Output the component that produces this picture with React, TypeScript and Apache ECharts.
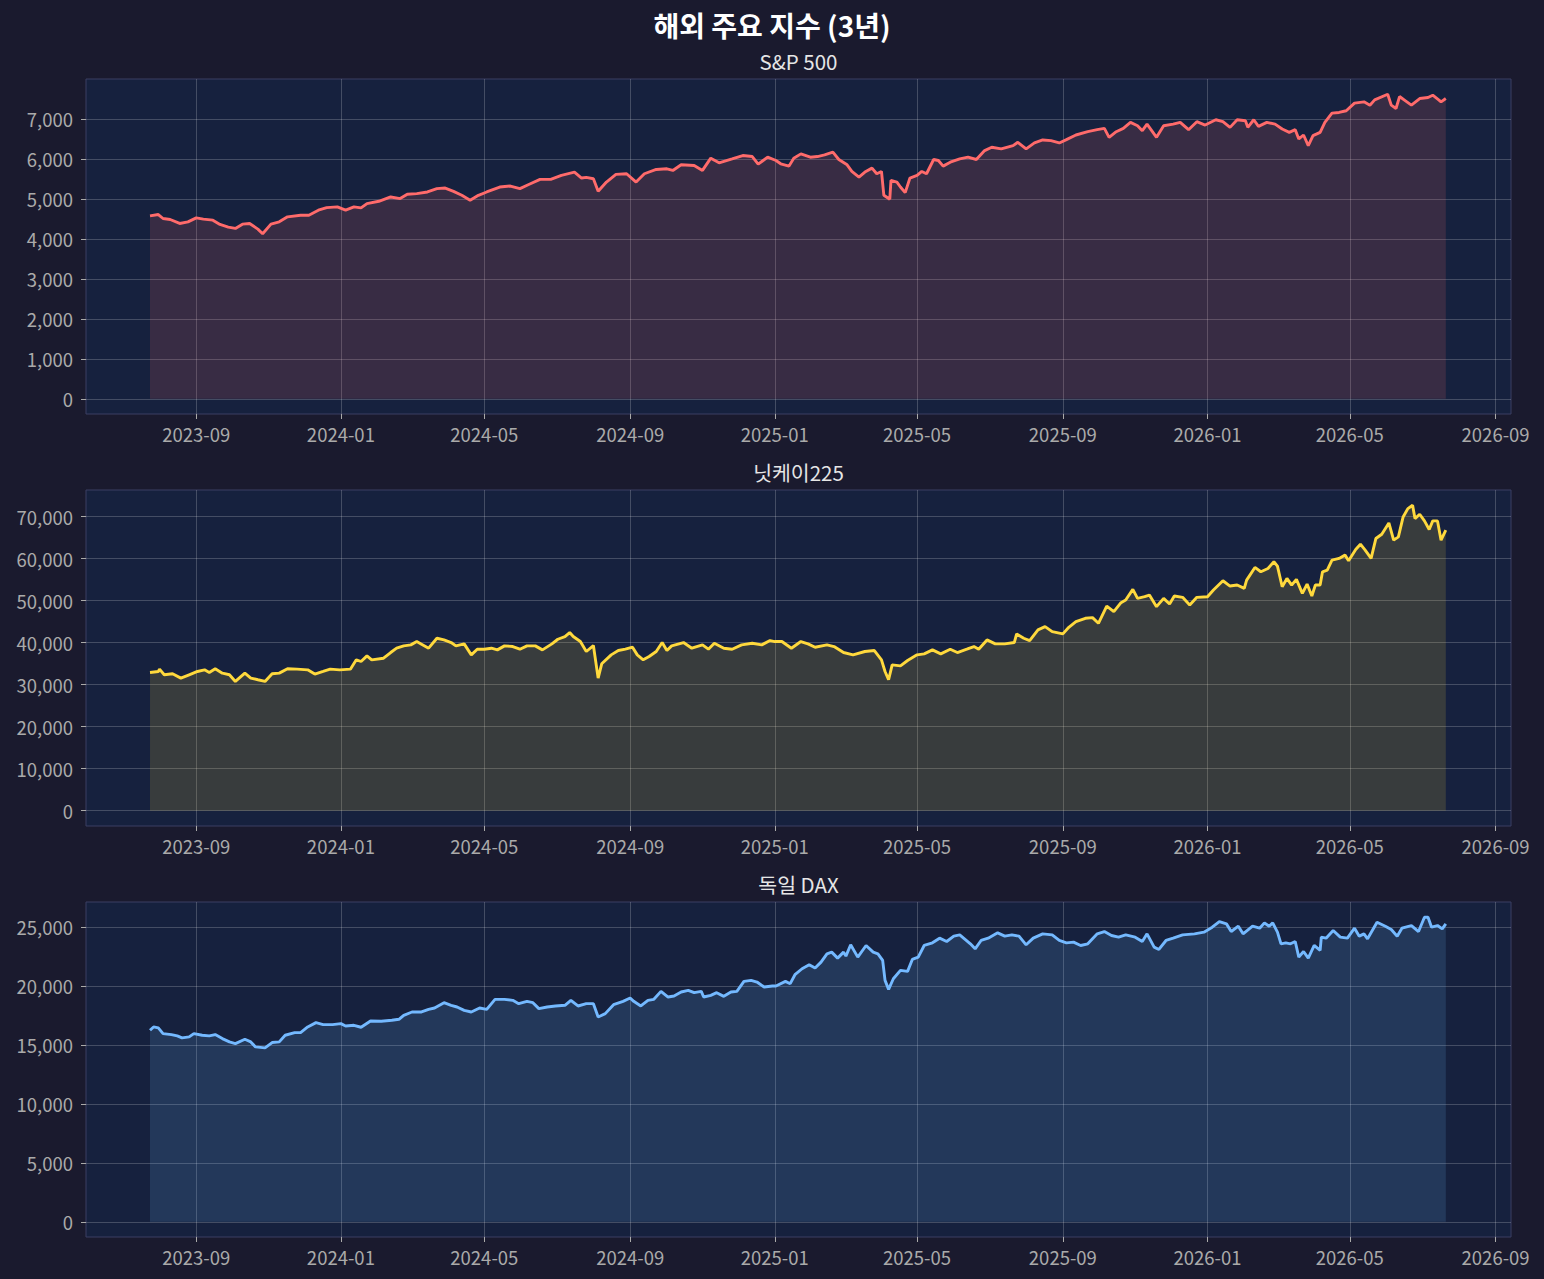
import React, { useEffect, useRef } from "react";
import * as echarts from "echarts";

const FONT = '"Noto Sans CJK KR", "Noto Sans", sans-serif';

const mainTitle = "해외 주요 지수 (3년)";
const panelTitles = ["S&P 500", "닛케이225", "독일 DAX"];
const lineColors = ["#ff6b6b", "#ffd93d", "#74b9ff"];

const xTickDates = [
  "2023-09-01", "2024-01-01", "2024-05-01", "2024-09-01", "2025-01-01",
  "2025-05-01", "2025-09-01", "2026-01-01", "2026-05-01", "2026-09-01",
];
const xRange = ["2023-05-31", "2026-09-14"];

const spTicks = [0, 1000, 2000, 3000, 4000, 5000, 6000, 7000];
const nkTicks = [0, 10000, 20000, 30000, 40000, 50000, 60000, 70000];
const daxTicks = [0, 5000, 10000, 15000, 20000, 25000];

const spDates = [
  "2023-07-24","2023-07-31","2023-08-04","2023-08-10","2023-08-18","2023-08-25","2023-09-01","2023-09-07","2023-09-15","2023-09-21",
  "2023-09-28","2023-10-04","2023-10-10","2023-10-16","2023-10-23","2023-10-27","2023-11-03","2023-11-10","2023-11-17","2023-11-28",
  "2023-12-05","2023-12-13","2023-12-20","2023-12-29","2024-01-05","2024-01-12","2024-01-18","2024-01-23","2024-02-02","2024-02-12",
  "2024-02-20","2024-02-26","2024-03-05","2024-03-14","2024-03-22","2024-03-29","2024-04-05","2024-04-12","2024-04-19","2024-04-26",
  "2024-05-03","2024-05-14","2024-05-23","2024-05-31","2024-06-07","2024-06-17","2024-06-26","2024-07-05","2024-07-16","2024-07-22",
  "2024-07-26","2024-08-01","2024-08-05","2024-08-12","2024-08-20","2024-08-29","2024-09-06","2024-09-13","2024-09-23","2024-10-02",
  "2024-10-07","2024-10-14","2024-10-25","2024-11-01","2024-11-08","2024-11-15","2024-11-26","2024-12-05","2024-12-13","2024-12-18",
  "2024-12-26","2025-01-02","2025-01-06","2025-01-13","2025-01-17","2025-01-23","2025-01-31","2025-02-06","2025-02-12","2025-02-19",
  "2025-02-24","2025-03-03","2025-03-07","2025-03-13","2025-03-18","2025-03-24","2025-03-28","2025-04-01","2025-04-03","2025-04-08",
  "2025-04-09","2025-04-14","2025-04-17","2025-04-21","2025-04-25","2025-05-01","2025-05-05","2025-05-09","2025-05-15","2025-05-19",
  "2025-05-23","2025-05-29","2025-06-06","2025-06-13","2025-06-20","2025-06-27","2025-07-03","2025-07-11","2025-07-21","2025-07-25",
  "2025-08-01","2025-08-08","2025-08-15","2025-08-22","2025-08-29","2025-09-04","2025-09-12","2025-09-22","2025-09-30","2025-10-06",
  "2025-10-10","2025-10-16","2025-10-22","2025-10-28","2025-11-03","2025-11-07","2025-11-11","2025-11-19","2025-11-25","2025-12-03",
  "2025-12-09","2025-12-16","2025-12-23","2025-12-30","2026-01-08","2026-01-14","2026-01-20","2026-01-26","2026-02-02","2026-02-04",
  "2026-02-09","2026-02-13","2026-02-20","2026-02-27","2026-03-05","2026-03-11","2026-03-16","2026-03-19","2026-03-23","2026-03-27",
  "2026-03-31","2026-04-06","2026-04-10","2026-04-16","2026-04-22","2026-04-28","2026-05-05","2026-05-13","2026-05-18","2026-05-22",
  "2026-06-02","2026-06-05","2026-06-09","2026-06-12","2026-06-17","2026-06-22","2026-06-29","2026-07-06","2026-07-10","2026-07-15",
  "2026-07-17","2026-07-21",
];
const spValues = [
  4585,4618,4518,4493,4394,4435,4535,4502,4477,4369,
  4302,4269,4377,4394,4252,4136,4377,4435,4560,4601,
  4601,4726,4792,4809,4726,4809,4784,4892,4950,5058,
  5017,5125,5141,5183,5266,5282,5199,5100,4975,5100,
  5183,5307,5332,5266,5365,5498,5498,5598,5681,5532,
  5548,5515,5199,5432,5623,5640,5432,5640,5748,5764,
  5723,5864,5847,5723,6030,5914,6013,6096,6071,5880,
  6055,5972,5889,5831,6030,6138,6055,6071,6113,6180,
  5997,5864,5698,5556,5681,5781,5640,5698,5100,5000,
  5473,5432,5307,5166,5532,5598,5698,5640,5997,5972,
  5831,5930,6013,6055,5997,6221,6304,6262,6346,6429,
  6262,6412,6487,6470,6412,6495,6611,6694,6744,6777,
  6553,6694,6777,6927,6844,6719,6885,6553,6844,6885,
  6927,6744,6944,6860,6993,6944,6802,6993,6968,6802,
  6993,6827,6927,6885,6761,6678,6744,6512,6611,6346,
  6595,6678,6927,7159,7176,7218,7409,7442,7359,7492,
  7633,7359,7276,7575,7467,7359,7525,7550,7608,7492,
  7442,7525,
];

const nkDates = [
  "2023-07-24","2023-07-31","2023-08-01","2023-08-05","2023-08-12","2023-08-19","2023-08-26","2023-09-02","2023-09-08","2023-09-12",
  "2023-09-17","2023-09-23","2023-09-29","2023-10-04","2023-10-12","2023-10-17","2023-10-23","2023-10-29","2023-11-04","2023-11-10",
  "2023-11-17","2023-11-25","2023-12-04","2023-12-10","2023-12-17","2023-12-23","2023-12-31","2024-01-09","2024-01-14","2024-01-18",
  "2024-01-23","2024-01-27","2024-02-06","2024-02-12","2024-02-17","2024-02-23","2024-02-29","2024-03-05","2024-03-09","2024-03-15",
  "2024-03-22","2024-03-28","2024-04-03","2024-04-07","2024-04-14","2024-04-20","2024-04-25","2024-05-01","2024-05-07","2024-05-12",
  "2024-05-18","2024-05-25","2024-05-31","2024-06-06","2024-06-13","2024-06-19","2024-06-27","2024-07-02","2024-07-08","2024-07-12",
  "2024-07-15","2024-07-21","2024-07-26","2024-08-01","2024-08-05","2024-08-08","2024-08-16","2024-08-22","2024-08-28","2024-09-03",
  "2024-09-07","2024-09-12","2024-09-17","2024-09-23","2024-09-28","2024-10-02","2024-10-06","2024-10-16","2024-10-23","2024-11-01",
  "2024-11-06","2024-11-11","2024-11-19","2024-11-26","2024-12-04","2024-12-13","2024-12-21","2024-12-28","2025-01-01","2025-01-07",
  "2025-01-15","2025-01-23","2025-01-29","2025-02-04","2025-02-14","2025-02-20","2025-02-28","2025-03-08","2025-03-18","2025-03-26",
  "2025-04-01","2025-04-04","2025-04-07","2025-04-10","2025-04-17","2025-04-23","2025-05-01","2025-05-07","2025-05-14","2025-05-21",
  "2025-05-29","2025-06-04","2025-06-12","2025-06-18","2025-06-22","2025-06-29","2025-07-06","2025-07-14","2025-07-22","2025-07-24",
  "2025-07-30","2025-08-04","2025-08-11","2025-08-17","2025-08-23","2025-09-01","2025-09-06","2025-09-12","2025-09-20","2025-09-26",
  "2025-10-01","2025-10-08","2025-10-14","2025-10-20","2025-10-24","2025-10-30","2025-11-03","2025-11-09","2025-11-13","2025-11-19",
  "2025-11-25","2025-11-30","2025-12-04","2025-12-11","2025-12-17","2025-12-23","2026-01-01","2026-01-06","2026-01-14","2026-01-20",
  "2026-01-26","2026-02-01","2026-02-03","2026-02-10","2026-02-15","2026-02-21","2026-02-26","2026-03-01","2026-03-05","2026-03-09",
  "2026-03-13","2026-03-17","2026-03-22","2026-03-26","2026-03-30","2026-04-02","2026-04-06","2026-04-08","2026-04-12","2026-04-16",
  "2026-04-22","2026-04-27","2026-04-30","2026-05-06","2026-05-10","2026-05-14","2026-05-19","2026-05-23","2026-05-28","2026-06-03",
  "2026-06-07","2026-06-11","2026-06-15","2026-06-19","2026-06-23","2026-06-25","2026-06-29","2026-07-03","2026-07-07","2026-07-10",
  "2026-07-14","2026-07-17","2026-07-21",
];
const nkValues = [
  32910,33150,33700,32360,32600,31570,32360,33150,33540,32910,
  33780,32750,32360,30780,32750,31570,31170,30780,32600,32750,
  33780,33700,33540,32520,33150,33700,33540,33700,35920,35520,
  36870,35920,36310,37660,38690,39240,39480,40270,39640,38690,
  41060,40660,40030,39240,39720,37100,38450,38450,38690,38290,
  39240,39080,38450,39240,39240,38290,39720,40820,41460,42410,
  41460,40270,37900,39320,31570,34970,37100,38130,38450,38920,
  37100,35920,36710,37900,40030,38130,39240,40030,38690,39480,
  38450,39870,38690,38450,39480,39870,39480,40510,40270,40270,
  38690,40270,39720,38920,39480,39080,37660,37100,37900,38130,
  35920,33150,31170,34730,34490,35760,37100,37340,38290,37340,
  38450,37660,38450,39080,38450,40660,39720,39720,40030,42090,
  41060,40510,43040,43830,42640,42090,43670,45020,45810,45970,
  44620,48730,47390,49530,50160,52690,50550,50950,51340,48580,
  50550,49210,51110,50790,48970,50790,50950,52530,54750,53480,
  53720,52930,54900,57910,56880,57670,59260,58230,53320,55300,
  53720,55060,51740,53950,51110,53720,53720,56880,57280,59650,
  60050,60840,59490,62180,63450,62030,60050,64790,65820,68510,
  64400,65190,69940,71910,72710,69540,70570,68990,66930,68990,
  68990,64400,66770,
];

const daxDates = [
  "2023-07-24","2023-07-27","2023-07-31","2023-08-04","2023-08-11","2023-08-16","2023-08-20","2023-08-26","2023-08-30","2023-09-06",
  "2023-09-12","2023-09-17","2023-09-23","2023-09-29","2023-10-04","2023-10-12","2023-10-17","2023-10-21","2023-10-29","2023-11-04",
  "2023-11-10","2023-11-15","2023-11-23","2023-11-28","2023-12-04","2023-12-11","2023-12-17","2023-12-25","2024-01-01","2024-01-05",
  "2024-01-12","2024-01-18","2024-01-26","2024-02-04","2024-02-13","2024-02-19","2024-02-23","2024-03-01","2024-03-09","2024-03-15",
  "2024-03-20","2024-03-28","2024-04-03","2024-04-08","2024-04-14","2024-04-20","2024-04-27","2024-05-03","2024-05-10","2024-05-18",
  "2024-05-25","2024-05-30","2024-06-06","2024-06-11","2024-06-16","2024-06-23","2024-06-30","2024-07-08","2024-07-13","2024-07-19",
  "2024-07-26","2024-08-01","2024-08-05","2024-08-11","2024-08-18","2024-08-26","2024-09-01","2024-09-04","2024-09-10","2024-09-16",
  "2024-09-21","2024-09-27","2024-10-03","2024-10-08","2024-10-14","2024-10-20","2024-10-25","2024-10-31","2024-11-02","2024-11-08",
  "2024-11-13","2024-11-19","2024-11-25","2024-11-30","2024-12-06","2024-12-12","2024-12-17","2024-12-23","2024-12-30","2025-01-02",
  "2025-01-10","2025-01-14","2025-01-18","2025-01-24","2025-01-30","2025-02-04","2025-02-09","2025-02-14","2025-02-18","2025-02-23",
  "2025-02-28","2025-03-02","2025-03-06","2025-03-12","2025-03-19","2025-03-25","2025-03-29","2025-04-02","2025-04-04","2025-04-07",
  "2025-04-11","2025-04-17","2025-04-23","2025-04-27","2025-05-02","2025-05-07","2025-05-14","2025-05-20","2025-05-26","2025-06-01",
  "2025-06-06","2025-06-10","2025-06-15","2025-06-19","2025-06-24","2025-06-30","2025-07-08","2025-07-14","2025-07-20","2025-07-26",
  "2025-08-01","2025-08-07","2025-08-15","2025-08-23","2025-08-29","2025-09-04","2025-09-10","2025-09-16","2025-09-22","2025-09-30",
  "2025-10-06","2025-10-12","2025-10-18","2025-10-24","2025-11-01","2025-11-07","2025-11-11","2025-11-17","2025-11-21","2025-11-27",
  "2025-12-03","2025-12-11","2025-12-21","2025-12-29","2026-01-05","2026-01-11","2026-01-17","2026-01-21","2026-01-27","2026-01-31",
  "2026-02-08","2026-02-14","2026-02-18","2026-02-22","2026-02-25","2026-03-01","2026-03-04","2026-03-08","2026-03-12","2026-03-16",
  "2026-03-19","2026-03-23","2026-03-27","2026-04-01","2026-04-06","2026-04-07","2026-04-11","2026-04-17","2026-04-23","2026-04-29",
  "2026-05-05","2026-05-09","2026-05-13","2026-05-16","2026-05-24","2026-05-31","2026-06-05","2026-06-10","2026-06-14","2026-06-22",
  "2026-06-28","2026-07-03","2026-07-06","2026-07-09","2026-07-14","2026-07-18","2026-07-21",
];
const daxValues = [
  16253,16535,16450,15971,15886,15773,15604,15688,15971,15829,
  15773,15886,15547,15265,15124,15491,15265,14842,14757,15209,
  15265,15829,16055,16055,16535,16902,16733,16733,16817,16620,
  16676,16507,17043,17015,17100,17184,17523,17805,17805,18031,
  18144,18595,18370,18228,17946,17805,18144,18031,18878,18878,
  18793,18510,18708,18595,18088,18228,18313,18370,18793,18313,
  18510,18510,17382,17664,18426,18708,18990,18708,18313,18793,
  18878,19555,19075,19160,19498,19639,19442,19555,19075,19216,
  19442,19131,19498,19555,20402,20487,20345,19922,20007,20007,
  20402,20205,20966,21474,21812,21530,22037,22743,22884,22376,
  22884,22545,23505,22460,23448,22884,22743,22178,20485,19724,
  20627,21332,21248,22263,22460,23448,23674,24069,23787,24238,
  24351,24013,23590,23166,23872,24069,24520,24238,24351,24238,
  23505,24069,24436,24351,23872,23674,23731,23448,23590,24436,
  24633,24295,24154,24351,24154,23787,24436,23307,23110,23872,
  24069,24351,24436,24577,25000,25480,25282,24633,25085,24436,
  25085,24915,25367,25085,25367,24577,23590,23674,23590,23787,
  22460,22940,22376,23448,23025,24154,24069,24718,24154,24069,
  24915,24238,24436,24013,25423,25085,24803,24238,24915,25141,
  24633,25846,25846,25000,25141,24859,25282,
];

const panels = [
  { dates: spDates, values: spValues, ticks: spTicks },
  { dates: nkDates, values: nkValues, ticks: nkTicks },
  { dates: daxDates, values: daxValues, ticks: daxTicks },
];

const gridBoxes = [
  { top: 79, height: 335 },
  { top: 490, height: 336 },
  { top: 902, height: 335 },
];
const GRID_LEFT = 86;
const GRID_WIDTH = 1425;

function toTs(s: string) {
  const [y, m, d] = s.split("-").map(Number);
  return new Date(y, m - 1, d).getTime();
}

function fmtMonth(v: number) {
  const d = new Date(v);
  const m = d.getMonth() + 1;
  return d.getFullYear() + "-" + (m < 10 ? "0" + m : "" + m);
}

export default function App() {
  const ref = useRef<HTMLDivElement>(null);

  useEffect(() => {
    document.body.style.margin = "0";
    document.body.style.background = "#1a1a2e";
    if (!ref.current) return;
    const chart = echarts.init(ref.current, null, { renderer: "svg" });

    const gridLine = { color: "rgba(255,255,255,0.2)", width: 1 };
    const tickColor = "#aaaaaa";
    const xTickTs = xTickDates.map(toTs);

    const grid = gridBoxes.map((g) => ({
      left: GRID_LEFT,
      width: GRID_WIDTH,
      top: g.top,
      height: g.height,
      show: true,
      backgroundColor: "#16213e",
      borderColor: "#3a3e62",
      borderWidth: 1,
      containLabel: false,
    }));

    const xAxis = panels.map((_, i) => ({
      type: "value",
      gridIndex: i,
      min: toTs(xRange[0]),
      max: toTs(xRange[1]),
      scale: true,
      axisLine: { show: false, onZero: false },
      axisTick: {
        show: true,
        customValues: xTickTs,
        length: 5,
        lineStyle: { color: tickColor, width: 1 },
      },
      axisLabel: {
        customValues: xTickTs,
        formatter: (v: number) => fmtMonth(v),
        color: tickColor,
        fontSize: 18.5,
        fontFamily: FONT,
        margin: 11,
        hideOverlap: false,
      },
      splitLine: { show: true, lineStyle: gridLine },
    }));

    const yAxis = panels.map((p, i) => {
      const maxV = Math.max(...p.values);
      return {
        type: "value",
        gridIndex: i,
        min: -0.05 * maxV,
        max: 1.05 * maxV,
        axisLine: { show: false, onZero: false },
        axisTick: {
          show: true,
          customValues: p.ticks,
          length: 5,
          lineStyle: { color: tickColor, width: 1 },
        },
        axisLabel: {
          customValues: p.ticks,
          formatter: (v: number) => Math.round(v).toLocaleString("en-US"),
          color: tickColor,
          fontSize: 18.5,
          fontFamily: FONT,
          margin: 13,
        },
        splitLine: { show: true, lineStyle: gridLine },
      };
    });

    const series = panels.map((p, i) => ({
      type: "line",
      xAxisIndex: i,
      yAxisIndex: i,
      data: p.dates.map((d, j) => [toTs(d), p.values[j]]),
      showSymbol: false,
      symbol: "none",
      lineStyle: { color: lineColors[i], width: 2.9 },
      itemStyle: { color: lineColors[i] },
      areaStyle: { color: lineColors[i], opacity: 0.15, origin: 0 },
      silent: true,
    }));

    const titles: any[] = [
      {
        text: mainTitle,
        left: "center",
        top: 11,
        padding: 0,
        textStyle: { color: "#ffffff", fontSize: 28, fontWeight: "bold", fontFamily: FONT },
      },
      ...panelTitles.map((t, i) => ({
        text: t,
        left: GRID_LEFT + GRID_WIDTH / 2,
        textAlign: "center",
        top: gridBoxes[i].top - 28,
        padding: 0,
        textStyle: { color: "#e6e6e6", fontSize: 20.5, fontWeight: "normal", fontFamily: FONT },
      })),
    ];

    chart.setOption({
      animation: false,
      backgroundColor: "#1a1a2e",
      textStyle: { fontFamily: FONT },
      title: titles,
      grid,
      xAxis,
      yAxis,
      series,
    });

    return () => chart.dispose();
  }, []);

  return (
    <div
      ref={ref}
      style={{ position: "absolute", left: 0, top: 0, width: 1544, height: 1279, background: "#1a1a2e" }}
    />
  );
}
